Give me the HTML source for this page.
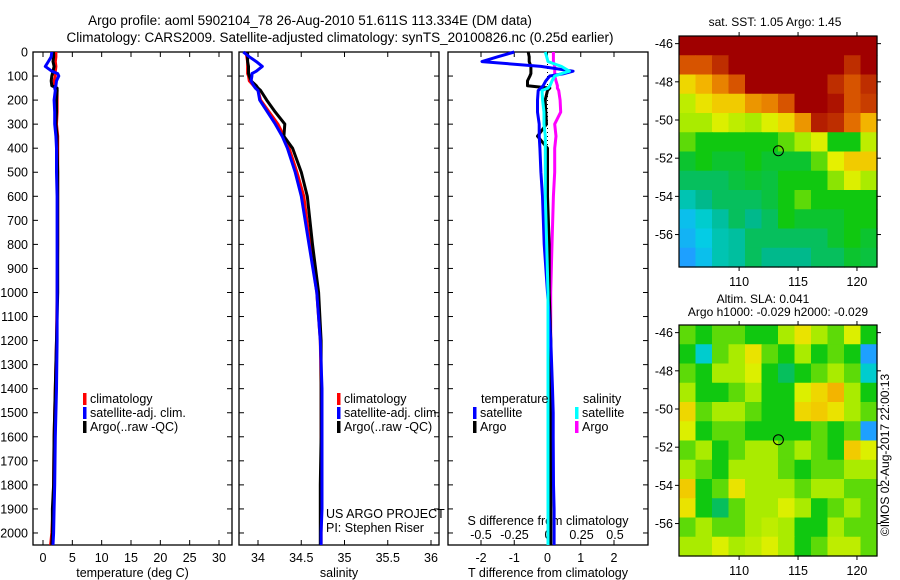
<!DOCTYPE html>
<html><head><meta charset="utf-8"><style>
body{margin:0;background:#fff;}
svg{display:block;font-family:"Liberation Sans",sans-serif;}
</style></head><body>
<svg id="fig" width="900" height="580" viewBox="0 0 900 580">
<text x="310" y="25" font-size="13.5" text-anchor="middle">Argo profile: aoml 5902104_78 26-Aug-2010 51.611S 113.334E (DM data)</text>
<text x="340" y="42" font-size="13.5" text-anchor="middle">Climatology: CARS2009. Satellite-adjusted climatology: synTS_20100826.nc (0.25d earlier)</text>
<g id="plots"></g>
</svg>
<script>
// ---------- data ----------
const depths = [0,20,40,60,80,90,100,120,140,150,160,200,250,300,350,400,500,600,800,1000,1200,1400,1500,1600,1800,1900,2000,2050];
const tClim = [2.2,2.2,2.1,2.2,2.1,2.0,2.1,1.9,2.0,2.3,2.4,2.4,2.4,2.3,2.5,2.5,2.5,2.5,2.5,2.4,2.3,2.1,2.0,1.9,1.8,1.7,1.5,1.3];
const tSat = [1.5,1.4,0.9,0.4,1.5,2.5,2.7,2.3,2.2,2.0,2.1,1.9,2.0,2.0,2.2,2.3,2.3,2.4,2.4,2.4,2.4,2.3,2.2,2.1,2.0,1.9,1.8,1.7];
const tArgo = [1.8,1.8,1.7,1.9,1.7,1.6,1.5,1.4,1.5,2.4,2.4,2.3,2.3,2.2,2.4,2.4,2.5,2.5,2.5,2.5,2.3,2.1,2.0,1.9,1.8,1.6,1.6,1.5];
const sClim = [33.86,33.87,33.88,33.88,33.88,33.88,33.89,33.9,33.95,33.98,34.0,34.03,34.13,34.23,34.3,34.36,34.45,34.53,34.6,34.68,34.72,34.73,34.73,34.73,34.73,34.73,34.73,34.73];
const sSat = [33.83,33.9,33.98,34.05,33.98,33.93,33.93,33.92,33.95,33.97,34.0,34.02,34.11,34.2,34.28,34.34,34.43,34.5,34.59,34.68,34.72,34.74,34.74,34.74,34.74,34.74,34.73,34.73];
const sArgo = [33.88,33.88,33.88,33.89,33.89,33.89,33.9,33.92,33.98,34.0,34.03,34.1,34.2,34.31,34.3,34.4,34.5,34.57,34.63,34.7,34.73,34.73,34.73,34.73,34.72,34.72,34.72,34.72];
const dTSat = [-1.0,-1.5,-1.97,-0.2,0.77,0.5,0.07,-0.05,-0.13,-0.2,-0.28,-0.3,-0.3,-0.25,-0.25,-0.23,-0.2,-0.15,-0.1,0,0.1,0.15,0.17,0.17,0.18,0.2,0.2,0.2];
const dTArgo = [-0.58,-0.55,-0.55,-0.5,-0.5,-0.5,-0.53,-0.6,-0.6,0.07,0,-0.07,-0.05,-0.03,-0.3,0,0,0,0.05,0.05,0.1,0.1,0.1,0.1,0.1,0.1,0.1,0.1];
const dSSat = [-0.02,-0.01,0,0.1,0.16,0.1,0.05,0.03,0.015,0,-0.045,-0.04,-0.03,-0.03,-0.02,-0.02,-0.02,-0.02,-0.01,0,0,0,0,0,0,0,0,0];
const dSArgo = [0.04,0.04,0.04,0.05,0.05,0.05,0.05,0.06,0.07,0.07,0.08,0.09,0.095,0.05,0.06,0.05,0.05,0.04,0.03,0.02,0.02,0.01,0.01,0.01,0.01,0.01,0.01,0.01];
const depthTicks = [0,100,200,300,400,500,600,700,800,900,1000,1100,1200,1300,1400,1500,1600,1700,1800,1900,2000];
const tTicks = [0,5,10,15,20,25,30];
const sTicks = [34,34.5,35,35.5,36];
const dTTicks = [-2,-1,0,1,2];
const dSTicks = [-0.5,-0.25,0,0.25,0.5];
const lonTicks = [110,115,120];
const latTicks = [-46,-48,-50,-52,-54,-56];
const argoLon = 113.334, argoLat = -51.611;
const sstGrid = [
[1,1,1,1,1,1,1,1,1,1,1,1],
[.85,.85,.9,1,1,1,1,1,1,1,.9,1],
[.7,.75,.8,.85,1,1,1,1,1,.9,.85,.9],
[.62,.68,.72,.72,.78,.8,.85,1,1,.95,.85,.88],
[.6,.6,.65,.62,.6,.65,.7,.78,.92,.9,.82,.75],
[.55,.5,.5,.5,.5,.5,.55,.6,.65,.5,.5,.62],
[.48,.5,.48,.48,.5,.48,.48,.48,.55,.66,.72,.72],
[.45,.45,.45,.47,.48,.47,.5,.5,.5,.58,.65,.6],
[.38,.42,.45,.45,.45,.47,.5,.55,.5,.5,.5,.5],
[.3,.35,.4,.45,.42,.45,.5,.48,.48,.48,.5,.5],
[.28,.32,.38,.4,.45,.45,.45,.45,.45,.48,.5,.48],
[.25,.3,.38,.4,.45,.42,.42,.42,.45,.45,.48,.47]];
const slaGrid = [
[.55,.5,.55,.55,.5,.5,.6,.68,.6,.55,.65,.5],
[.5,.35,.55,.6,.68,.55,.5,.6,.5,.55,.5,.25],
[.55,.5,.6,.6,.65,.5,.45,.5,.55,.6,.55,.35],
[.6,.5,.5,.55,.6,.5,.5,.65,.7,.75,.6,.5],
[.7,.55,.6,.6,.55,.5,.5,.7,.72,.68,.6,.55],
[.65,.5,.55,.55,.5,.5,.5,.5,.55,.5,.55,.25],
[.55,.6,.5,.55,.6,.6,.55,.6,.55,.5,.72,.65],
[.6,.55,.5,.6,.6,.6,.55,.5,.55,.55,.6,.6],
[.72,.5,.55,.68,.6,.6,.6,.55,.6,.6,.55,.55],
[.68,.5,.45,.55,.6,.6,.65,.6,.5,.55,.6,.55],
[.55,.6,.55,.55,.6,.62,.6,.5,.5,.6,.55,.55],
[.6,.6,.65,.6,.62,.65,.6,.5,.55,.62,.62,.55]];

// ---------- helpers ----------
const NS="http://www.w3.org/2000/svg";
const root=document.getElementById('plots');
function mk(tag,attrs,parent){const e=document.createElementNS(NS,tag);for(const k in attrs)e.setAttribute(k,attrs[k]);(parent||root).appendChild(e);return e;}
function txt(x,y,s,anchor,size,parent){const e=mk('text',{x:x,y:y,'font-size':size||12.5,'text-anchor':anchor||'start'},parent);e.textContent=s;return e;}
function lin(d0,d1,p0,p1){return v=>p0+(v-d0)*(p1-p0)/(d1-d0);}

const Y0=52, Y1=545;
const yDepth=lin(0,2050,Y0,Y1);

function panel(name,x0,x1,xs,ticks,lab,xlabel,showDepth){
  const g=mk('g',{});
  
  
  const r=mk('rect',{x:x0,y:Y0,width:x1-x0,height:Y1-Y0,fill:'none',stroke:'#000','stroke-width':1.3},g);
  
  
  depthTicks.forEach(d=>{
    const y=yDepth(d);
    mk('line',{x1:x0,y1:y,x2:x0+5,y2:y,stroke:'#000'},g);
    mk('line',{x1:x1,y1:y,x2:x1-5,y2:y,stroke:'#000'},g);
    if(showDepth){const t=txt(28,y+4.5,String(d),'end',12.5,g);
      
      }
  });
  if(ticks){ticks.forEach(v=>{const x=xs(v);
    mk('line',{x1:x,y1:Y1,x2:x,y2:Y1-5,stroke:'#000'},g);
    mk('line',{x1:x,y1:Y0,x2:x,y2:Y0+5,stroke:'#000'},g);
    const t=txt(x,562,String(v),'middle',12.5,g);
    
    });}
  if(xlabel){const t=txt((x0+x1)/2,577,xlabel,'middle',12.5,g);
    
    }
  return g;
}
function series(g,vals,xs,color,name){
  const pts=vals.map((v,i)=>xs(v).toFixed(1)+','+yDepth(depths[i]).toFixed(1)).join(' ');
  const p=mk('polyline',{points:pts,fill:'none',stroke:color,'stroke-width':3,'stroke-linejoin':'round'},g);
  
  
}
function legend(g,x,y,color,label,name){
  const r=mk('rect',{x:x,y:y-10,width:3.5,height:12,fill:color},g);
  
  
  const t=txt(x+7,y,label,'start',12.5,g);
  
  
}

// Panel 1: temperature
const xT=lin(0,30,43,219);
const g1=panel('temperature-panel',33,232,xT,tTicks,xT,'temperature (deg C)',true);
series(g1,tClim,xT,'#ff0000','temp-climatology-line');
series(g1,tArgo,xT,'#000000','temp-argo-line');
series(g1,tSat,xT,'#0000ff','temp-satellite-line');
legend(g1,83,403,'#ff0000','climatology','legend-climatology');
legend(g1,83,417,'#0000ff','satellite-adj. clim.','legend-satellite');
legend(g1,83,431,'#000000','Argo(..raw -QC)','legend-argo');

// Panel 2: salinity
const xS=lin(34,36,258,431);
const g2=panel('salinity-panel',239,439,xS,sTicks,xS,'salinity',false);
series(g2,sClim,xS,'#ff0000','sal-climatology-line');
series(g2,sArgo,xS,'#000000','sal-argo-line');
series(g2,sSat,xS,'#0000ff','sal-satellite-line');
legend(g2,337,403,'#ff0000','climatology','legend-climatology');
legend(g2,337,417,'#0000ff','satellite-adj. clim.','legend-satellite');
legend(g2,337,431,'#000000','Argo(..raw -QC)','legend-argo');
const u1=txt(326,518,'US ARGO PROJECT','start',12.5,g2);


const u2=txt(326,532,'PI: Stephen Riser','start',12.5,g2);



// Panel 3: differences
const xDT=lin(0,1,547.5,580.75);
const xDS=lin(0,1,548,682);
const g3=panel('difference-panel',448,648,xDT,dTTicks,xDT,'T difference from climatology',false);
dSTicks.forEach(v=>{const t=txt(xDS(v),539,String(v),'middle',12.5,g3);
  
  });
const st=txt(548,525,'S difference from climatology','middle',12.5,g3);


const zl=mk('line',{x1:xDT(0),y1:Y0,x2:xDT(0),y2:Y1,stroke:'#000','stroke-width':1,'stroke-dasharray':'1,3'},g3);


series(g3,dSArgo,xDS,'#ff00ff','sal-argo-diff-line');
series(g3,dTArgo,xDT,'#000000','temp-argo-diff-line');
series(g3,dTSat,xDT,'#0000ff','temp-satellite-diff-line');
series(g3,dSSat,xDS,'#00ffff','sal-satellite-diff-line');
const lt=txt(481,403,'temperature','start',12.5,g3);


legend(g3,473,417,'#0000ff','satellite','legend-temp-satellite');
legend(g3,473,431,'#000000','Argo','legend-temp-argo');
const ls=txt(583,403,'salinity','start',12.5,g3);


legend(g3,575,417,'#00ffff','satellite','legend-sal-satellite');
legend(g3,575,431,'#ff00ff','Argo','legend-sal-argo');

// ---------- maps ----------
const cstops=[[0,[0,90,255]],[0.25,[30,160,255]],[0.33,[0,210,225]],[0.42,[0,185,140]],[0.5,[16,200,16]],[0.6,[170,235,0]],[0.66,[230,240,0]],[0.74,[245,190,0]],[0.83,[225,100,0]],[0.92,[180,30,0]],[1,[160,0,0]]];
function cmap(v){for(let i=1;i<cstops.length;i++){if(v<=cstops[i][0]){const a=cstops[i-1],b=cstops[i];const f=(v-a[0])/(b[0]-a[0]);
  const c=a[1].map((q,k)=>Math.round(q+(b[1][k]-q)*f));return 'rgb('+c.join(',')+')';}}return 'rgb(160,0,0)';}
function mapPanel(name,grid,top,bottom,latTop,latBot,lonTickY){
  const x0=679,x1=877;
  const g=mk('g',{});
  
  
  const xl=lin(104.9,121.7,x0,x1), yl=lin(latTop,latBot,top,bottom);
  const rows=grid.length, cols=grid[0].length;
  const cw=(x1-x0)/cols, ch=(bottom-top)/rows;
  grid.forEach((row,r)=>row.forEach((v,c)=>{
    const cell=mk('rect',{x:x0+c*cw,y:top+r*ch,width:cw+0.6,height:ch+0.6,fill:cmap(v)},g);
    
    
  }));
  const fr=mk('rect',{x:x0,y:top,width:x1-x0,height:bottom-top,fill:'none',stroke:'#000','stroke-width':1.2},g);
  
  
  lonTicks.forEach(v=>{const x=xl(v);
    mk('line',{x1:x,y1:top,x2:x,y2:top-4,stroke:'#000'},g);
    mk('line',{x1:x,y1:bottom,x2:x,y2:bottom+4,stroke:'#000'},g);
    const t=txt(x,lonTickY,String(v),'middle',12.5,g);
    
    });
  latTicks.forEach(v=>{const y=yl(v);
    mk('line',{x1:x0,y1:y,x2:x0-4,y2:y,stroke:'#000'},g);
    mk('line',{x1:x1,y1:y,x2:x1+4,y2:y,stroke:'#000'},g);
    const t=txt(673,y+4.5,String(v),'end',12.5,g);
    
    });
  const c=mk('circle',{cx:xl(argoLon),cy:yl(argoLat),r:5,fill:'none',stroke:'#000','stroke-width':1},g);
  
  
  return g;
}
const m1=mapPanel('sst-map',sstGrid,36,267,-45.6,-57.7,286);
const mt=txt(775,26,'sat. SST: 1.05 Argo: 1.45','middle',12,m1);


const m2=mapPanel('sla-map',slaGrid,325,556,-45.6,-57.7,575);
const a1=txt(763,303,'Altim. SLA: 0.041','middle',12,m2);


const a2=txt(778,316,'Argo h1000: -0.029 h2000: -0.029','middle',12,m2);


const im=txt(0,0,'©IMOS 02-Aug-2017 22:00:13','middle',12,m2);
im.setAttribute('transform','translate(889,455) rotate(-90)');


</script>
</body></html>
